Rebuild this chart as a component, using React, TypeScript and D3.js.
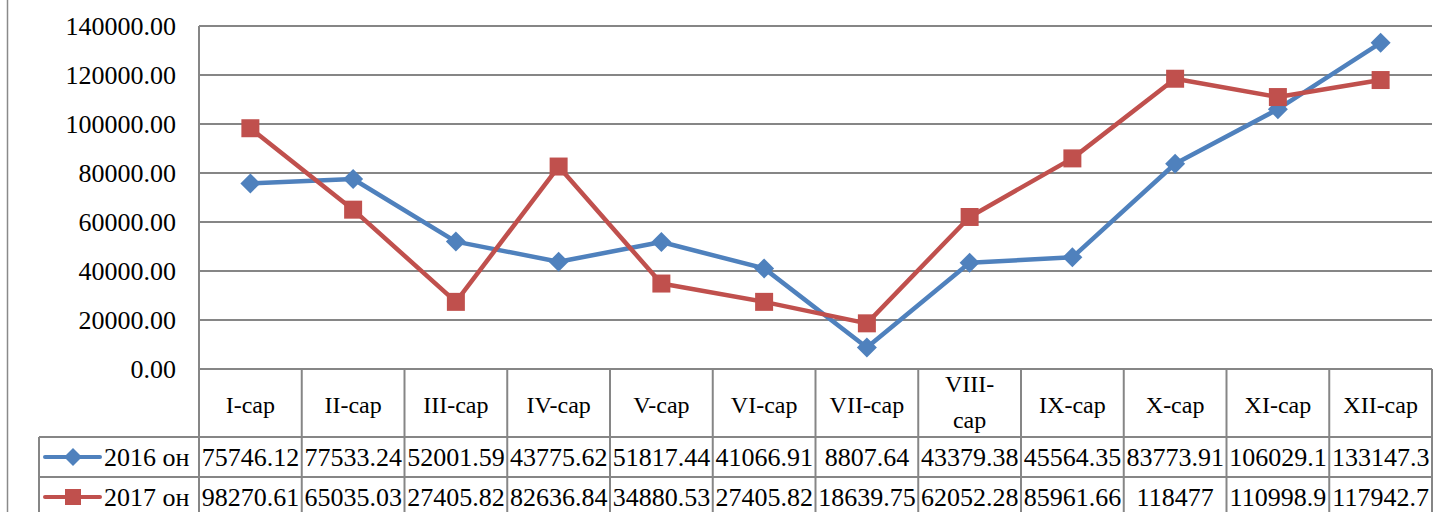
import React, { useEffect, useRef } from "react";
import * as d3 from "d3";

const categories = [
  "I-cap", "II-cap", "III-cap", "IV-cap", "V-cap", "VI-cap",
  "VII-cap", "VIII-cap", "IX-cap", "X-cap", "XI-cap", "XII-cap",
];
const values2016 = [
  75746.12, 77533.24, 52001.59, 43775.62, 51817.44, 41066.91,
  8807.64, 43379.38, 45564.35, 83773.91, 106029.1, 133147.3,
];
const values2017 = [
  98270.61, 65035.03, 27405.82, 82636.84, 34880.53, 27405.82,
  18639.75, 62052.28, 85961.66, 118477, 110998.9, 117942.7,
];
const labels2016 = [
  "75746.12", "77533.24", "52001.59", "43775.62", "51817.44", "41066.91",
  "8807.64", "43379.38", "45564.35", "83773.91", "106029.1", "133147.3",
];
const labels2017 = [
  "98270.61", "65035.03", "27405.82", "82636.84", "34880.53", "27405.82",
  "18639.75", "62052.28", "85961.66", "118477", "110998.9", "117942.7",
];
const yTicks = [0, 20000, 40000, 60000, 80000, 100000, 120000, 140000];

const series = [
  { name: "2016 он", values: values2016, labels: labels2016, color: "#4F81BD", marker: "diamond" },
  { name: "2017 он", values: values2017, labels: labels2017, color: "#C0504D", marker: "square" },
];

const W = 1437;
const H = 512;
const font = "'Liberation Serif', 'Times New Roman', serif";

function markerPath(kind: string, r: number) {
  if (kind === "diamond") return `M0,${-r}L${r},0L0,${r}L${-r},0Z`;
  return `M${-r},${-r}H${r}V${r}H${-r}Z`;
}

export default function App() {
  const svgRef = useRef<SVGSVGElement | null>(null);

  useEffect(() => {
    if (!svgRef.current) return;
    const svg = d3.select(svgRef.current);
    svg.selectAll("*").remove();

    const left = 199;
    const right = 1432;
    const top = 26;
    const bottom = 369;
    const headerBottom = 437;
    const rowH = 40;
    const legendLeft = 39;
    const grid = "#868686";

    const x = d3.scaleBand().domain(categories).range([left, right]).padding(0);
    const y = d3.scaleLinear().domain([0, 140000]).range([bottom, top]);

    // outer chart border
    svg.append("line")
      .attr("x1", 7.5).attr("x2", 7.5).attr("y1", 0).attr("y2", H)
      .attr("stroke", "#8a8a8a").attr("stroke-width", 1.5);

    // gridlines
    svg.append("g")
      .selectAll("line")
      .data(yTicks)
      .enter()
      .append("line")
      .attr("x1", left).attr("x2", right)
      .attr("y1", (d) => y(d)).attr("y2", (d) => y(d))
      .attr("stroke", grid).attr("stroke-width", 2);

    // y axis line
    svg.append("line")
      .attr("x1", left).attr("x2", left).attr("y1", top).attr("y2", headerBottom + rowH * 2)
      .attr("stroke", grid).attr("stroke-width", 2);

    // y tick labels
    svg.append("g")
      .selectAll("text")
      .data(yTicks)
      .enter()
      .append("text")
      .attr("x", 176)
      .attr("y", (d) => y(d))
      .attr("dy", "0.35em")
      .attr("text-anchor", "end")
      .style("font-family", font)
      .style("font-size", "26px")
      .attr("fill", "#000")
      .text((d) => d3.format(".2f")(d));

    // table lines
    const table = svg.append("g");
    const colEdges = categories.map((c) => x(c)!).concat([right]);
    table.selectAll(".vline")
      .data(colEdges)
      .enter()
      .append("line")
      .attr("x1", (d) => d).attr("x2", (d) => d)
      .attr("y1", bottom).attr("y2", headerBottom + rowH * 2)
      .attr("stroke", grid).attr("stroke-width", 2);
    [headerBottom, headerBottom + rowH, headerBottom + rowH * 2].forEach((yy) => {
      table.append("line")
        .attr("x1", legendLeft).attr("x2", right).attr("y1", yy).attr("y2", yy)
        .attr("stroke", grid).attr("stroke-width", 2);
    });
    table.append("line")
      .attr("x1", legendLeft).attr("x2", legendLeft)
      .attr("y1", headerBottom).attr("y2", headerBottom + rowH * 2)
      .attr("stroke", grid).attr("stroke-width", 2);

    // header labels
    const header = table.selectAll(".hdr")
      .data(categories)
      .enter()
      .append("text")
      .attr("text-anchor", "middle")
      .style("font-family", font)
      .style("font-size", "24px")
      .attr("fill", "#000");
    header.each(function (d) {
      const t = d3.select(this);
      const cx = x(d)! + x.bandwidth() / 2;
      if (d === "VIII-cap") {
        t.append("tspan").attr("x", cx).attr("y", 392).text("VIII-");
        t.append("tspan").attr("x", cx).attr("y", 428).text("cap");
      } else {
        t.append("tspan").attr("x", cx).attr("y", 413).text(d);
      }
    });

    // table rows
    series.forEach((s, i) => {
      const cy = headerBottom + rowH * i + rowH / 2;
      table.append("g")
        .selectAll("text")
        .data(s.labels)
        .enter()
        .append("text")
        .attr("x", (_, j) => x(categories[j])! + x.bandwidth() / 2)
        .attr("y", cy)
        .attr("dy", "0.35em")
        .attr("text-anchor", "middle")
        .style("font-family", font)
        .style("font-size", "26px")
        .attr("fill", "#000")
        .text((d) => d);

      table.append("line")
        .attr("x1", 45).attr("x2", 100).attr("y1", cy).attr("y2", cy)
        .attr("stroke", s.color).attr("stroke-width", 4).attr("stroke-linecap", "round");
      table.append("path")
        .attr("d", markerPath(s.marker, s.marker === "diamond" ? 9 : 8))
        .attr("transform", `translate(73,${cy})`)
        .attr("fill", s.color);
      table.append("text")
        .attr("x", 104)
        .attr("y", cy)
        .attr("dy", "0.35em")
        .style("font-family", font)
        .style("font-size", "26px")
        .attr("fill", "#000")
        .text(s.name);
    });

    // lines + markers
    series.forEach((s) => {
      const line = d3.line<number>()
        .x((_, j) => x(categories[j])! + x.bandwidth() / 2)
        .y((d) => y(d));
      svg.append("path")
        .datum(s.values)
        .attr("d", line)
        .attr("fill", "none")
        .attr("stroke", s.color)
        .attr("stroke-width", 4.5)
        .attr("stroke-linejoin", "round");
      svg.append("g")
        .selectAll("path")
        .data(s.values)
        .enter()
        .append("path")
        .attr("d", markerPath(s.marker, s.marker === "diamond" ? 10 : 9))
        .attr("transform", (d, j) => `translate(${x(categories[j])! + x.bandwidth() / 2},${y(d)})`)
        .attr("fill", s.color);
    });
  }, []);

  return (
    <svg
      ref={svgRef}
      width={W}
      height={H}
      style={{ position: "absolute", left: 0, top: 0, background: "#fff" }}
    />
  );
}
